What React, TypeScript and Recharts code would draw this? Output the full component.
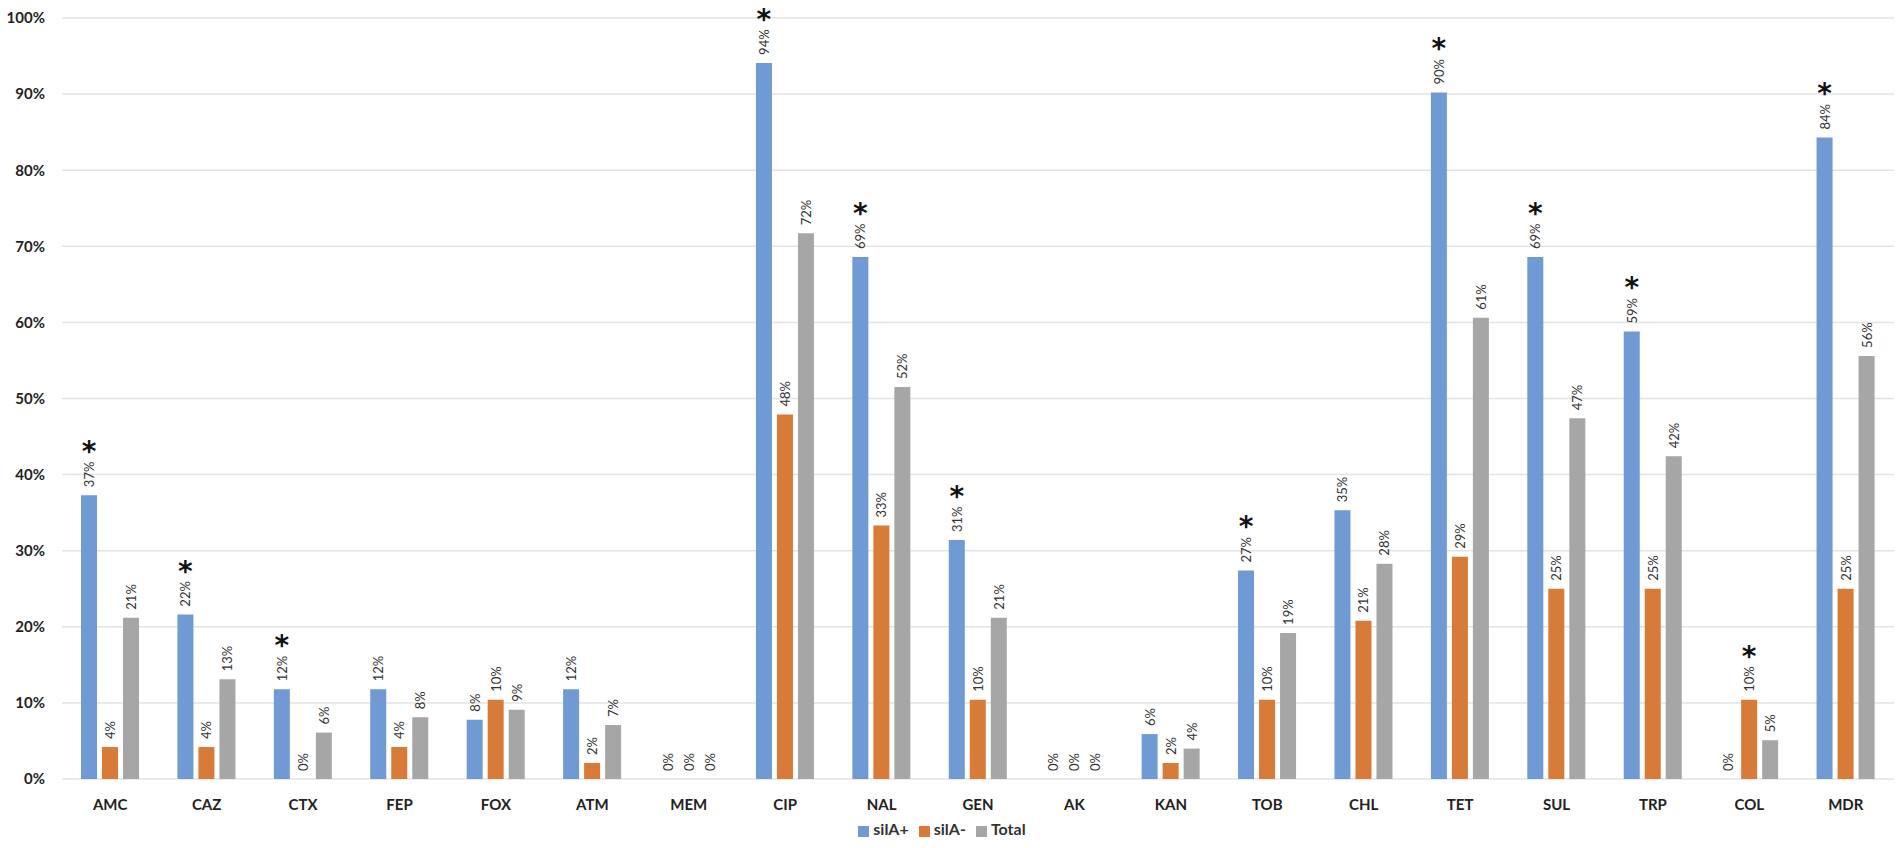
import { BarChart, Bar, XAxis, YAxis, CartesianGrid, Legend, LabelList } from 'recharts';

const categories = ['AMC', 'CAZ', 'CTX', 'FEP', 'FOX', 'ATM', 'MEM', 'CIP', 'NAL', 'GEN', 'AK', 'KAN', 'TOB', 'CHL', 'TET', 'SUL', 'TRP', 'COL', 'MDR'];

const silAPlus = [37.3, 21.6, 11.8, 11.8, 7.8, 11.8, 0, 94.1, 68.6, 31.4, 0, 5.9, 27.4, 35.3, 90.2, 68.6, 58.8, 0, 84.3];
const silAMinus = [4.2, 4.2, 0, 4.2, 10.4, 2.1, 0, 47.9, 33.3, 10.4, 0, 2.1, 10.4, 20.8, 29.2, 25.0, 25.0, 10.4, 25.0];
const total = [21.2, 13.1, 6.1, 8.1, 9.1, 7.1, 0, 71.7, 51.5, 21.2, 0, 4.0, 19.2, 28.3, 60.6, 47.4, 42.4, 5.1, 55.6];

// significance markers (asterisks) per series
const starPlus = ['AMC', 'CAZ', 'CTX', 'CIP', 'NAL', 'GEN', 'TOB', 'TET', 'SUL', 'TRP', 'MDR'];
const starMinus = ['COL'];

const seriesNames = ['silA+', 'silA-', 'Total'];
const yTicks = [0, 10, 20, 30, 40, 50, 60, 70, 80, 90, 100];

const FONT = 'Lato, "Open Sans", sans-serif';

const data = categories.map((name, i) => ({
  name,
  plus: silAPlus[i],
  minus: silAMinus[i],
  total: total[i],
}));

// rotated value label, with an asterisk above it when flagged
const makeLabel = (stars: string[]) => (props: any) => {
  const { x, y, width, height, value, index } = props;
  const cx = x + width / 2;
  const top = height < 0 ? y + height : y;
  const text = `${Math.round(value)}%`;
  const start = top - 8;
  const len = (text.length - 1) * 7.3 + 10.5;
  const showStar = stars.includes(categories[index]);
  return (
    <g>
      <text
        x={cx}
        y={start}
        transform={`rotate(-90, ${cx}, ${start})`}
        textAnchor="start"
        dominantBaseline="central"
        fontSize={13}
        fontFamily={FONT}
        fill="#333"
      >
        {text}
      </text>
      {showStar && (
        <text
          x={cx}
          y={start - len - 1}
          textAnchor="middle"
          fontSize={28}
          fontWeight="bold"
          fontFamily='"DejaVu Sans", sans-serif'
          fill="#111"
        >
          *
        </text>
      )}
    </g>
  );
};

export default function App() {
  return (
    <div style={{ position: 'absolute', left: 0, top: 0, background: '#fff' }}>
      <BarChart
        width={1902}
        height={848}
        data={data}
        margin={{ top: 18, right: 8, left: 0, bottom: 0 }}
        barSize={16}
        barGap={5}
        barCategoryGap={19}
      >
        <CartesianGrid vertical={false} stroke="#e3e3e3" strokeWidth={1.5} />
        <XAxis
          dataKey="name"
          axisLine={false}
          tickLine={false}
          height={40}
          tickMargin={14}
          tick={{ fontSize: 15, fontWeight: 'bold', fill: '#222', fontFamily: FONT }}
          interval={0}
        />
        <YAxis
          domain={[0, 100]}
          ticks={yTicks}
          tickFormatter={(v) => `${v}%`}
          axisLine={false}
          tickLine={false}
          tickSize={0}
          tickMargin={17}
          width={62}
          tick={{ fontSize: 15, fontWeight: 'bold', fill: '#222', fontFamily: FONT }}
        />
        <Legend
          verticalAlign="bottom"
          height={29}
          iconType="square"
          iconSize={11}
          itemSorter={(item: any) => seriesNames.indexOf(item.value)}
          formatter={(value) => (
            <span style={{ color: '#333', fontSize: 16, fontWeight: 'bold', fontFamily: FONT }}>{value}</span>
          )}
        />
        <Bar dataKey="plus" name="silA+" fill="#6f9ad4" minPointSize={0.01} isAnimationActive={false}>
          <LabelList dataKey="plus" content={makeLabel(starPlus)} />
        </Bar>
        <Bar dataKey="minus" name="silA-" fill="#d87a38" minPointSize={0.01} isAnimationActive={false}>
          <LabelList dataKey="minus" content={makeLabel(starMinus)} />
        </Bar>
        <Bar dataKey="total" name="Total" fill="#a6a6a6" minPointSize={0.01} isAnimationActive={false}>
          <LabelList dataKey="total" content={makeLabel([])} />
        </Bar>
      </BarChart>
    </div>
  );
}
